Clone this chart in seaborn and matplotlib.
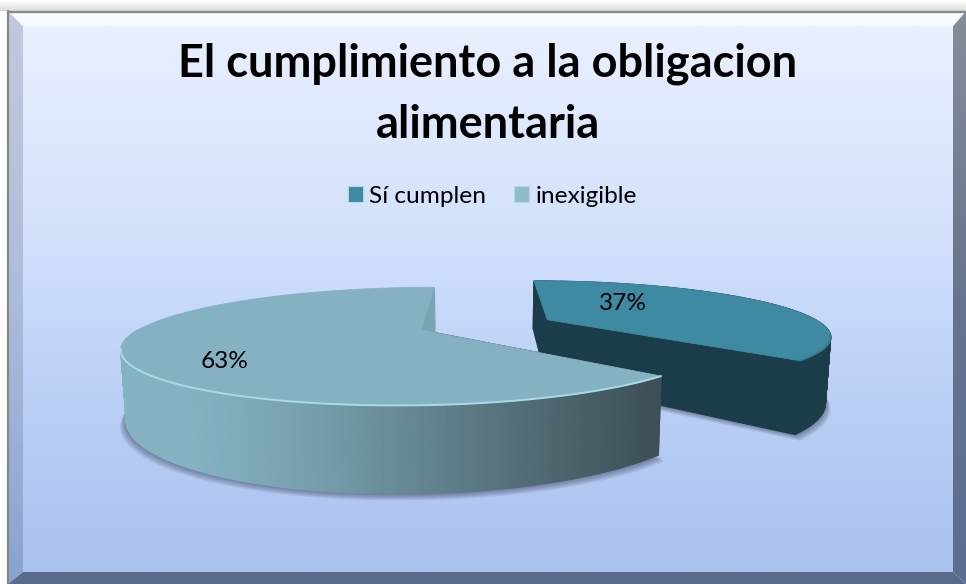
import numpy as np
import matplotlib
matplotlib.use('Agg')
import matplotlib.pyplot as plt
import seaborn as sns
from matplotlib.colors import LinearSegmentedColormap
from matplotlib.patches import Polygon, Patch

# Data
title = 'El cumplimiento a la obligacion\nalimentaria'
categories = ['Sí cumplen', 'inexigible']
shares = [37, 63]
labels = ['37%', '63%']

sns.set_theme(style='white')
plt.rcParams['font.family'] = ['Lato', 'DejaVu Sans']

W, H = 966, 584
fig = plt.figure(figsize=(W / 100, H / 100), dpi=100)
ax = fig.add_axes([0, 0, 1, 1])
ax.set_xlim(0, W)
ax.set_ylim(H, 0)
ax.axis('off')

# Frame
L, T, R, B = 23, 26, 953, 572
bg = LinearSegmentedColormap.from_list('bg', ['#e9f0ff', '#d6e3fc', '#bcd0f6', '#a9c2ee'])
ax.imshow(np.linspace(0, 1, 256)[:, None], cmap=bg, extent=(L, R, B, T), aspect='auto', zorder=0)
ax.imshow(np.linspace(0, 1, 16)[:, None], cmap=LinearSegmentedColormap.from_list('s', ['#ffffff', '#d8dcd8']),
          extent=(0, W, 11, 0), aspect='auto', zorder=0)
ax.set_xlim(0, W)
ax.set_ylim(H, 0)


def bevel(x0, x1, colors):
    # vertical side of the frame, mitred at both corners
    cmap = LinearSegmentedColormap.from_list('b', colors)
    im = ax.imshow(np.linspace(0, 1, 128)[:, None], cmap=cmap, extent=(min(x0, x1), max(x0, x1), B + 12, T - 15),
                   aspect='auto', zorder=1)
    poly = Polygon([(x0, T - 15), (x1, T), (x1, B), (x0, B + 12)], closed=True, transform=ax.transData,
                   fc='none', ec='none')
    ax.add_patch(poly)
    im.set_clip_path(poly)


bevel(8, L, ['#c2c9dc', '#aebcdb', '#8aa3d0'])
bevel(W, R, ['#878c99', '#66748f', '#5b6d92'])
ax.add_patch(Polygon([(8, 11), (W, 11), (R, T), (L, T)], fc='#f6faff', ec='none', zorder=2))
ax.add_patch(Polygon([(8, H), (W, H), (R, B), (L, B)], fc='#5a6a8a', ec='none', zorder=2))
ax.plot([8, W], [11.5, 11.5], color='#858a85', lw=1.6, zorder=3)
ax.plot([8, 8], [11, H], color='#858a85', lw=1.6, zorder=3)

# Pie model: unit disc seen in perspective, extruded downwards
VX, VY, P = 483, 250, 0.277
AX, AY, RX, RY, DEPTH, SHRINK = -62, 80, 283, 32.4, 64, 0.985
EXPLODE = 0.5


def project(u, v, low=False):
    s = 1 / (1 - P * v)
    d = DEPTH if low else 0
    k = SHRINK if low else 1
    return VX + (AX + RX * u) * s * k, VY + (AY + RY * v + d) * s


def arc(t0, t1, u0, v0, low=False, n=240):
    t = np.radians(np.linspace(t0, t1, n))
    return project(u0 + np.sin(t), v0 - np.cos(t), low)


def wall(x0, y0, x1, y1, color, z):
    # a vertical wall under the top edge (x0, y0) to (x1, y1)
    pts = np.column_stack([np.r_[x0, x1[::-1]], np.r_[y0, y1[::-1]]])
    ax.add_patch(Polygon(pts, fc=color, ec=color, lw=0.8, zorder=z))


cuts = np.cumsum([0] + shares) * 3.6
mid = np.radians((cuts[0] + cuts[1]) / 2)
u_small, v_small = EXPLODE * np.sin(mid), -EXPLODE * np.cos(mid)

# soft shadows under both slices
xa, ya = arc(cuts[0], cuts[1], u_small, v_small, True)
xa0, ya0 = project(u_small, v_small, True)
xb, yb = arc(cuts[1], cuts[2], 0, 0, True)
xb0, yb0 = project(0, 0, True)
for i in range(7):
    grow = (7 - i) * 0.9
    ax.add_patch(Polygon(np.column_stack([np.r_[xa0, xa + grow * 0.8], np.r_[ya0 + grow, ya + grow]]),
                         fc='#3a3f58', ec='none', alpha=0.09, zorder=4))
    ax.add_patch(Polygon(np.column_stack([np.r_[xb0, xb + grow * np.sign(xb - xb0)], np.r_[yb0, yb + grow]]),
                         fc='#3a3f58', ec='none', alpha=0.09, zorder=4))

# small slice
dark = '#1b3d4a'
for a in np.radians(cuts[:2]):
    us = np.array([u_small, u_small + np.sin(a)])
    vs = np.array([v_small, v_small - np.cos(a)])
    wall(*project(us, vs), *project(us, vs, True), dark, 5)
xt, yt = arc(cuts[0], cuts[1], u_small, v_small)
xl, yl = arc(cuts[0], cuts[1], u_small, v_small, True)
for i in range(len(xt) - 1):
    wall(xt[i:i + 2], yt[i:i + 2], xl[i:i + 2], yl[i:i + 2], dark, 5)
xc, yc = project(u_small, v_small)
ax.add_patch(Polygon(np.column_stack([np.r_[xc, xt], np.r_[yc, yt]]), fc='#3f8aa3', ec='#3f8aa3', lw=0.6, zorder=6))
ax.plot(xt[190:], yt[190:], color='#39798f', lw=1.4, zorder=6)

# large slice
a = np.radians(cuts[1])
us = np.array([0, np.sin(a)])
vs = np.array([0, -np.cos(a)])
wall(*project(us, vs), *project(us, vs, True), '#3e5058', 7)
a = np.radians(cuts[2])
us = np.array([0, np.sin(a)])
vs = np.array([0, -np.cos(a)])
wall(*project(us, vs), *project(us, vs, True), '#78a4b4', 7)

side_cmap = sns.blend_palette(['#3d4f57', '#506972', '#63848f', '#77a0af', '#85b3c3'], 64, as_cmap=True)
xt, yt = arc(cuts[1], cuts[2], 0, 0, n=720)
xl, yl = arc(cuts[1], cuts[2], 0, 0, True, n=720)
xc, yc = project(0, 0)
for i in range(0, 718, 2):
    if yt[i] < yc:
        continue
    f = (xt[0] - xt[i]) / (xt[0] - 190)
    wall(xt[i:i + 3], yt[i:i + 3], xl[i:i + 3], yl[i:i + 3], side_cmap(min(f, 1.0)), 7)

ax.add_patch(Polygon(np.column_stack([np.r_[xc, xt], np.r_[yc, yt]]), fc='#84b2c2', ec='#84b2c2', lw=0.6, zorder=8))
front = yt > yc + 18
ax.plot(xt[front], yt[front], color='#a8dbe6', lw=1.4, zorder=9, solid_capstyle='round')

# text
ax.text(488, 94, title, ha='center', va='center', fontsize=32.5, fontweight='bold', color='black',
        linespacing=1.56, zorder=10)
colors = ['#3f8aa3', '#8fbccb']
handles = [Patch(facecolor=c, edgecolor='#b5d5e0', linewidth=0.8) for c in colors]
ax.legend(handles, categories, loc='center', bbox_to_anchor=(492.5 / W, 1 - 196.5 / H), ncol=2, frameon=False,
          fontsize=17.6, handlelength=0.62, handleheight=0.62, handletextpad=0.25, columnspacing=1.15,
          labelcolor='black')
ax.text(623, 304, labels[0], ha='center', va='center', fontsize=17.6, color='black', zorder=10)
ax.text(225, 362, labels[1], ha='center', va='center', fontsize=17.6, color='black', zorder=10)

fig.savefig('out.png', dpi=100)
